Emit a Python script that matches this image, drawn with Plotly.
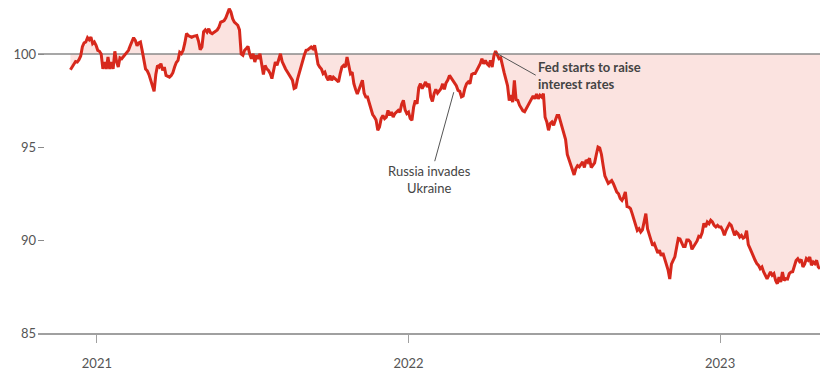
import pandas as pd
import plotly.graph_objects as go

# Index value, sampled every 2 calendar days starting 2020-12-01
start_date = "2020-12-01"
values = [
    99.16, 99.3, 99.4, 99.6, 99.57, 99.7, 99.9, 100.4, 100.6, 100.65,
    100.88, 100.77, 100.91, 100.56, 100.65, 100.47, 100.2, 100.15, 100.0, 99.2,
    99.57, 99.2, 99.84, 99.2, 99.57, 99.2, 100.15, 99.6, 99.3, 99.8,
    99.75, 99.85, 100.0, 100.1, 100.2, 100.45, 100.7, 100.88, 100.74, 100.45,
    100.6, 100.65, 100.2, 99.6, 99.2, 99.1, 98.9, 98.6, 98.3, 98.0,
    98.9, 99.39, 99.3, 99.48, 99.12, 99.3, 98.85, 98.8, 98.76, 98.85,
    99.0, 99.3, 99.55, 99.66, 100.1, 100.02, 100.2, 100.6, 101.1, 101.0,
    100.95, 100.9, 100.95, 100.98, 101.0, 100.7, 100.24, 100.38, 101.2, 101.3,
    101.18, 101.36, 101.15, 101.1, 101.18, 101.25, 101.3, 101.45, 101.72, 101.75,
    101.8, 101.95, 102.2, 102.44, 102.26, 101.9, 101.72, 101.65, 101.55, 101.3,
    100.0, 99.93, 100.2, 100.3, 100.41, 100.0, 99.75, 100.02, 99.57, 99.93,
    99.75, 100.02, 99.48, 98.9, 99.39, 99.2, 99.12, 98.95, 98.68, 99.12,
    99.57, 99.4, 99.8, 100.02, 99.6, 99.35, 99.2, 99.05, 98.9, 98.8,
    98.6, 98.15, 98.2, 98.65, 99.0, 99.25, 99.55, 99.95, 100.2, 100.22,
    100.3, 100.38, 100.29, 100.47, 100.0, 99.45, 99.3, 99.2, 98.95, 99.03,
    98.76, 98.59, 98.85, 98.59, 98.76, 98.68, 98.6, 98.5, 98.95, 99.3,
    99.39, 99.3, 99.84, 99.3, 98.95, 99.03, 98.41, 98.1, 97.85, 98.1,
    98.35, 98.59, 97.9, 97.69, 97.69, 97.4, 97.05, 96.75, 96.62, 96.45,
    95.9, 96.08, 96.53, 96.7, 96.53, 96.61, 96.97, 96.7, 96.88, 96.61,
    96.8, 96.88, 96.97, 96.88, 97.3, 97.51, 97.0, 96.8, 96.88, 96.53,
    96.44, 97.15, 97.51, 97.33, 98.2, 98.41, 98.14, 98.32, 98.5, 98.23,
    98.41, 97.7, 97.45, 97.87, 98.1, 97.9, 98.05, 98.14, 98.4, 98.1,
    98.45, 98.6, 98.85, 98.7, 98.6, 98.45, 98.3, 98.05, 98.0, 97.7,
    97.75, 98.15, 98.4, 98.5, 98.41, 98.9, 98.95, 98.95, 99.12, 99.35,
    99.48, 99.75, 99.48, 99.66, 99.48, 99.39, 99.66, 99.3, 99.9, 100.16,
    99.93, 99.75, 99.8, 99.3, 99.0, 98.65, 98.3, 97.5, 97.8, 97.42,
    98.59, 97.55, 97.51, 97.25, 97.1, 96.95, 96.9, 97.06, 97.3, 97.42,
    97.6, 97.75, 97.6, 97.85, 97.6, 97.78, 97.69, 97.87, 96.6, 96.35,
    95.9, 96.26, 96.35, 96.17, 96.44, 96.7, 96.7, 96.35, 96.08, 95.8,
    95.4, 94.6, 94.3, 94.05, 93.74, 93.5, 93.84, 94.0, 93.93, 94.1,
    94.2, 93.9, 94.3, 94.19, 94.4, 93.9, 94.0, 94.15, 94.6, 95.0,
    94.95, 94.6, 94.0, 93.45, 93.25, 93.05, 93.12, 93.2, 93.03, 92.8,
    92.58, 92.49, 92.23, 92.13, 92.31, 92.58, 91.8, 91.77, 91.69, 91.42,
    91.1, 90.75, 90.52, 90.61, 90.43, 90.55, 90.97, 91.42, 90.6, 90.3,
    90.0, 89.7, 89.8, 89.55, 89.3, 89.45, 89.15, 89.3, 89.0, 88.7,
    88.4, 87.9, 88.7, 88.9, 89.1, 89.6, 90.08, 90.05, 89.8, 89.65,
    89.65, 90.0, 90.0, 89.9, 89.5, 89.65, 89.8, 89.95, 90.2, 90.16,
    90.4, 90.9, 90.7, 90.97, 90.88, 91.06, 90.97, 90.79, 90.7, 90.79,
    90.7, 90.7, 90.52, 90.25, 90.52, 90.7, 90.88, 90.79, 90.5, 90.25,
    90.43, 90.34, 90.16, 90.25, 90.1, 90.16, 90.5, 89.75, 89.55, 89.3,
    89.09, 88.91, 88.73, 88.64, 88.46, 88.55, 88.28, 88.1, 87.92, 88.1,
    88.28, 88.1, 88.19, 87.83, 87.65, 88.01, 87.74, 88.28, 87.83, 87.92,
    87.9, 88.19, 88.28, 88.3, 88.64, 88.9, 89.0, 88.85, 88.95, 88.55,
    88.7, 89.0, 88.91, 89.09, 88.64, 88.82, 88.73, 88.91, 88.55, 88.46,
]

baseline = 100
x_range = ["2020-10-24", "2023-04-28"]
y_range = [85, 102.8]
y_ticks = [85, 90, 95, 100]
x_tickvals = ["2021-01-01", "2022-01-01", "2023-01-01"]
x_ticktext = ["2021", "2022", "2023"]

ann_russia = {"date": "2022-02-23", "value": 97.95, "text": "Russia invades<br>Ukraine"}
ann_fed = {"date": "2022-04-12", "value": 100.1, "text": "<b>Fed starts to raise<br>interest rates</b>"}

dates = pd.date_range(start_date, periods=len(values), freq="2D")

RED = "#d7281c"
FILL = "#fbe3e0"
GREY = "#8a8a8a"
TEXT = "#444444"
FONT = "Lato"

fig = go.Figure()
fig.add_trace(go.Scatter(x=dates, y=[baseline] * len(values), mode="lines",
                         line=dict(width=0), hoverinfo="skip", showlegend=False))
fig.add_trace(go.Scatter(x=dates, y=values, mode="lines", fill="tonexty",
                         fillcolor=FILL, line=dict(width=0), hoverinfo="skip",
                         showlegend=False))
fig.add_trace(go.Scatter(x=x_range, y=[baseline, baseline], mode="lines",
                         line=dict(color=GREY, width=1.6), hoverinfo="skip",
                         showlegend=False))
fig.add_trace(go.Scatter(x=dates, y=values, mode="lines",
                         line=dict(color=RED, width=3), showlegend=False))

fig.add_annotation(x=ann_russia["date"], y=ann_russia["value"], text=ann_russia["text"],
                   showarrow=True, arrowhead=0, arrowwidth=1, arrowcolor="#555555",
                   ax=-24, ay=87, align="center",
                   font=dict(family=FONT, size=13, color=TEXT))
fig.add_annotation(x=ann_fed["date"], y=ann_fed["value"], text=ann_fed["text"],
                   showarrow=True, arrowhead=0, arrowwidth=1, arrowcolor="#555555",
                   ax=41, ay=23, align="left", xanchor="left",
                   font=dict(family=FONT, size=13, color=TEXT))

fig.update_layout(
    width=820, height=375,
    margin=dict(l=38, r=0, t=2, b=42),
    paper_bgcolor="white", plot_bgcolor="white",
    font=dict(family=FONT, size=13, color="#555555"),
    xaxis=dict(range=x_range, tickvals=x_tickvals, ticktext=x_ticktext,
               showgrid=False, zeroline=False, showline=True,
               linecolor="#a0a0a0", linewidth=1.6,
               ticks="outside", ticklen=8, tickwidth=1, tickcolor="#a0a0a0",
               ticklabelstandoff=10, tickfont=dict(size=13, color="#555555")),
    yaxis=dict(range=y_range, tickvals=y_ticks, showgrid=False, zeroline=False,
               showline=False, ticks="inside", ticklen=6, tickwidth=1,
               tickcolor=GREY, ticklabelstandoff=1,
               tickfont=dict(size=13, color="#555555")),
)

fig.write_html("out.html", config={"displayModeBar": False},
               post_script="document.body.style.margin='0';document.body.style.overflow='hidden';")
